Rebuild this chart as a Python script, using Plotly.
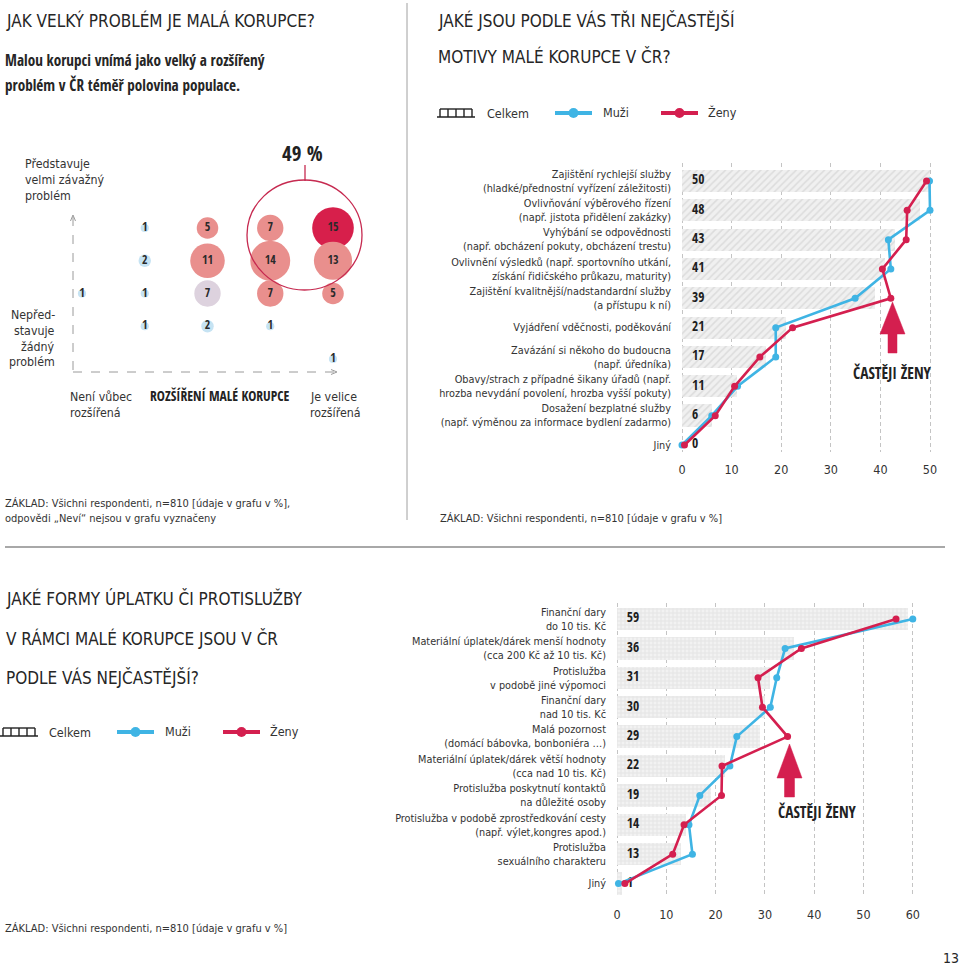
import plotly.graph_objects as go

W, H = 960, 967
NARROW = "Liberation Sans Narrow, Arial Narrow, DejaVu Sans Condensed, sans-serif"
TITLE = "'DejaVu Sans Condensed', sans-serif"
BOLDC = "'Open Sans Condensed', 'DejaVu Sans Condensed', sans-serif"
BLUE = "#3fb4e4"
RED = "#d41f4f"
INK = "#262626"
TXT = "#333333"

# ---------------- Data: panel 1 (bubble matrix) ----------------
spread_levels = [1, 2, 2, 2, 2, 3, 3, 3, 3, 4, 4, 4, 4, 5, 5, 5, 5]
severity_levels = [3, 5, 4, 3, 2, 5, 4, 3, 2, 5, 4, 3, 2, 5, 4, 3, 1]
cell_pct = [1, 1, 2, 1, 1, 5, 11, 7, 2, 7, 14, 7, 1, 15, 13, 5, 1]

# ---------------- Data: panel 2 (motives) ----------------
motives = [
    "Zajištění rychlejší služby<br>(hladké/přednostní vyřízení záležitosti)",
    "Ovlivňování výběrového řízení<br>(např. jistota přidělení zakázky)",
    "Vyhýbání se odpovědnosti<br>(např. obcházení pokuty, obcházení trestu)",
    "Ovlivnění výsledků (např. sportovního utkání,<br>získání řidičského průkazu, maturity)",
    "Zajištění kvalitnější/nadstandardní služby<br>(a přístupu k ní)",
    "Vyjádření vděčnosti, poděkování",
    "Zavázání si někoho do budoucna<br>(např. úředníka)",
    "Obavy/strach z případné šikany úřadů (např.<br>hrozba nevydání povolení, hrozba vyšší pokuty)",
    "Dosažení bezplatné služby<br>(např. výměnou za informace bydlení zadarmo)",
    "Jiný",
]
motives_total = [50, 48, 43, 41, 39, 21, 17, 11, 6, 0]
motives_men = [49.9, 50.0, 41.6, 42.1, 34.9, 18.9, 18.9, 11.2, 6.0, 0.0]
motives_women = [49.3, 45.4, 45.2, 40.4, 42.1, 22.3, 15.7, 10.6, 6.7, 0.5]
motives_ticks = [0, 10, 20, 30, 40, 50]

# ---------------- Data: panel 3 (forms) ----------------
forms = [
    "Finanční dary<br>do 10 tis. Kč",
    "Materiální úplatek/dárek menší hodnoty<br>(cca 200 Kč až 10 tis. Kč)",
    "Protislužba<br>v podobě jiné výpomoci",
    "Finanční dary<br>nad 10 tis. Kč",
    "Malá pozornost<br>(domácí bábovka, bonboniéra …)",
    "Materiální úplatek/dárek větší hodnoty<br>(cca nad 10 tis. Kč)",
    "Protislužba poskytnutí kontaktů<br>na důležité osoby",
    "Protislužba v podobě zprostředkování cesty<br>(např. výlet,kongres apod.)",
    "Protislužba<br>sexuálního charakteru",
    "Jiný",
]
forms_total = [59, 36, 31, 30, 29, 22, 19, 14, 13, 1]
forms_men = [60.0, 34.1, 32.4, 31.1, 24.3, 22.9, 16.8, 14.6, 15.3, 0.3]
forms_women = [56.6, 37.4, 28.6, 29.5, 34.6, 21.3, 21.2, 13.6, 11.3, 1.6]
forms_ticks = [0, 10, 20, 30, 40, 50, 60]


# ---------------- helpers (pixel layout -> paper) ----------------
def px(x):
    return x / W


def py(y):
    return 1 - y / H


def xmap(L, R, p0, v0, k):
    return dict(domain=[px(L), px(R)], range=[v0 + (L - p0) / k, v0 + (R - p0) / k])


def ymap(T, B, p0, v0, k, up=False):
    s = -1 if up else 1
    return dict(domain=[py(B), py(T)], range=[v0 + s * (B - p0) / k, v0 + s * (T - p0) / k])


fig = go.Figure()
annotations = []
shapes = []


def text(x, y, s, size=13, anchor="left", bold=False, color=TXT, family=NARROW):
    annotations.append(dict(
        x=px(x), y=py(y), xref="paper", yref="paper", text=s, showarrow=False,
        xanchor=anchor, yanchor="middle", align=anchor if anchor != "center" else "center",
        font=dict(family=family, size=size, color=color, weight="bold" if bold else "normal"),
    ))


def line(x0, y0, x1, y1, color="#999", width=1, dash=None):
    shapes.append(dict(type="line", xref="paper", yref="paper", x0=px(x0), y0=py(y0),
                       x1=px(x1), y1=py(y1), line=dict(color=color, width=width, dash=dash)))


def path(points, fill=None, color="#999", width=1, closed=False):
    d = "M " + " L ".join(f"{px(a):.5f},{py(b):.5f}" for a, b in points)
    if closed:
        d += " Z"
    shapes.append(dict(type="path", xref="paper", yref="paper", path=d,
                       fillcolor=fill if fill else "rgba(0,0,0,0)",
                       line=dict(color=color, width=width)))


# ================= Panel 1 : bubbles =================
order = sorted(range(len(cell_pct)), key=lambda i: -severity_levels[i])
vmax = max(cell_pct)


def bubble_color(i):
    v, s = cell_pct[i], spread_levels[i] + severity_levels[i]
    if v == vmax:
        return "#d71f4b"
    if v >= 5 and s > 6:
        return "#e98f8d"
    if v >= 5 and s == 6:
        return "#ddd2de"
    return "#c6e3f3"


fig.add_trace(go.Scatter(
    x=[spread_levels[i] for i in order],
    y=[severity_levels[i] for i in order],
    mode="markers+text",
    text=[str(cell_pct[i]) for i in order],
    textposition="middle center",
    textfont=dict(family=BOLDC, size=12, color="#2a2a2a", weight="bold"),
    marker=dict(size=[8.2 * cell_pct[i] ** 0.6 for i in order],
                color=[bubble_color(i) for i in order], line=dict(width=0), opacity=1),
    xaxis="x", yaxis="y", cliponaxis=False, hoverinfo="skip",
))

# axes arrows
line(73, 217, 73, 372, "#9a9a9a", 1, "dash")
line(73, 372, 336, 372, "#9a9a9a", 1, "dash")
path([(70.5, 221), (73, 215), (75.5, 221)], color="#9a9a9a", width=1)
path([(331, 369.5), (337, 372), (331, 374.5)], color="#9a9a9a", width=1)

# 49 % highlight
shapes.append(dict(type="circle", xref="paper", yref="paper", x0=px(247), x1=px(362),
                   y0=py(290), y1=py(180), line=dict(color="#c62a50", width=1.3)))
line(305, 165, 305, 181, "#c62a50", 1.3)
text(302, 153, "49 %", size=21, anchor="center", bold=True, color="#222", family=BOLDC)

text(23, 164, "Představuje", 12.3)
text(23, 180, "velmi závažný", 12.3)
text(23, 196, "problém", 12.3)
for yy, s in zip([315, 331, 347, 362], ["Nepřed-", "stavuje", "žádný", "problém"]):
    text(57, yy, s, 12.3, anchor="right")
text(68, 397, "Není vůbec", 12.3)
text(68, 413, "rozšířená", 12.3)
text(219, 395, "ROZŠÍŘENÍ MALÉ KORUPCE", 13.6, anchor="center", bold=True, color="#222", family=BOLDC)
text(308, 397, "Je velice", 12.3)
text(308, 413, "rozšířená", 12.3)

# titles panel 1
text(4, 20, "JAK VELKÝ PROBLÉM JE MALÁ KORUPCE?", 17, color=INK, family=TITLE)
text(3, 60, "Malou korupci vnímá jako velký a rozšířený", 15.2, bold=True, color=INK, family=BOLDC)
text(3, 85, "problém v ČR téměř polovina populace.", 15.2, bold=True, color=INK, family=BOLDC)
text(3, 503, "ZÁKLAD: Všichni respondenti, n=810 [údaje v grafu v %],", 11)
text(3, 518, "odpovědi „Neví“ nejsou v grafu vyznačeny", 11)


# ================= Panels 2 & 3 : bars + lines =================
def bar_panel(cats, total, men, women, xa, ya, pattern):
    rows = list(range(len(cats)))
    fig.add_trace(go.Bar(
        x=total, y=rows, orientation="h", width=0.76, xaxis=xa, yaxis=ya,
        marker=dict(color="#f0f0f0", line=dict(width=0), pattern=pattern),
        hoverinfo="skip",
    ))
    fig.add_trace(go.Scatter(
        x=[2.0] * len(rows), y=rows, mode="text", text=[str(v) for v in total],
        textposition="middle right", xaxis=xa, yaxis=ya, cliponaxis=False,
        textfont=dict(family=BOLDC, size=13.5, color="#1e1e1e", weight="bold"), hoverinfo="skip",
    ))
    for vals, col in ((men, BLUE), (women, RED)):
        fig.add_trace(go.Scatter(
            x=vals, y=rows, mode="lines+markers", xaxis=xa, yaxis=ya, cliponaxis=False,
            line=dict(color=col, width=2.6), marker=dict(color=col, size=7), hoverinfo="skip",
        ))


bar_panel(motives, motives_total, motives_men, motives_women, "x2", "y2",
          dict(shape="/", fgcolor="#c8c8c8", bgcolor="#f0f0f0", size=5, solidity=0.3, fillmode="overlay"))
bar_panel(forms, forms_total, forms_men, forms_women, "x3", "y3",
          dict(shape="+", fgcolor="#cbcbcb", bgcolor="#f2f2f2", size=4, solidity=0.3, fillmode="overlay"))

xcommon = dict(showgrid=True, gridcolor="#c4c4c4", gridwidth=1, griddash="4px,3px",
               zeroline=False, showline=False, ticks="",
               tickfont=dict(family=NARROW, size=12.5, color=TXT), ticklabelstandoff=8)
ycommon = dict(showgrid=False, zeroline=False, showline=False, ticks="",
               tickfont=dict(family=NARROW, size=10.8, color=TXT), ticklabelstandoff=4)

layout_axes = dict(
    xaxis=dict(**xmap(15, 400, 82, 1, 62.75), visible=False, anchor="y"),
    yaxis=dict(**ymap(135, 430, 228, 5, 32.75, up=True), visible=False, anchor="x"),
    xaxis2=dict(**xmap(676, 945, 682, 0, 4.96), anchor="y2", tickvals=motives_ticks, **xcommon),
    yaxis2=dict(**ymap(163, 452, 181, 0, 29.33), anchor="x2", tickvals=list(range(len(motives))),
                ticktext=motives, **ycommon),
    xaxis3=dict(**xmap(611, 945, 617, 0, 4.93), anchor="y3", tickvals=forms_ticks, **xcommon),
    yaxis3=dict(**ymap(603, 897, 619, 0, 29.4), anchor="x3", tickvals=list(range(len(forms))),
                ticktext=forms, **ycommon),
)

# titles panel 2
text(436, 20, "JAKÉ JSOU PODLE VÁS TŘI NEJČASTĚJŠÍ", 17, color=INK, family=TITLE)
text(436, 57, "MOTIVY MALÉ KORUPCE V ČR?", 17, color=INK, family=TITLE)
# panel 3 titles
text(4, 598, "JAKÉ FORMY ÚPLATKU ČI PROTISLUŽBY", 17, color=INK, family=TITLE)
text(4, 638, "V RÁMCI MALÉ KORUPCE JSOU V ČR", 17, color=INK, family=TITLE)
text(4, 677, "PODLE VÁS NEJČASTĚJŠÍ?", 17, color=INK, family=TITLE)


def legend(x0, y, x_text1, mx0, x_text2, zx0, x_text3):
    # Celkem "ladder" icon
    line(x0, y - 4, x0 + 32, y - 4, "#222", 1.4)
    line(x0 - 3, y + 4, x0 + 35, y + 4, "#222", 1.4)
    for k in range(5):
        line(x0 + 8 * k, y - 4, x0 + 8 * k, y + 4, "#222", 1.4)
    text(x_text1, y, "Celkem", 12.5)
    for xx, col, lab, tx in ((mx0, BLUE, "Muži", x_text2), (zx0, RED, "Ženy", x_text3)):
        line(xx, y, xx + 37, y, col, 4)
        shapes.append(dict(type="circle", xref="paper", yref="paper",
                           x0=px(xx + 13.5), x1=px(xx + 23.5), y0=py(y + 5), y1=py(y - 5),
                           fillcolor=col, line=dict(width=0)))
        text(tx, y - 1, lab, 12.5)


legend(440, 113, 485, 555, 601, 661, 706)
legend(3, 732, 47, 117, 163, 223, 268)


def up_arrow(cx, tip, base, bottom, hw, sw):
    path([(cx, tip), (cx + hw, base), (cx + sw, base), (cx + sw, bottom), (cx - sw, bottom),
          (cx - sw, base), (cx - hw, base)], fill=RED, color=RED, width=0.5, closed=True)


up_arrow(892.5, 302, 334, 353, 12.5, 4.5)
text(892, 373, "ČASTĚJI ŽENY", 15.5, anchor="center", bold=True, color="#222", family=BOLDC)
up_arrow(789.5, 744, 778, 797, 12.5, 5)
text(817, 812, "ČASTĚJI ŽENY", 15.5, anchor="center", bold=True, color="#222", family=BOLDC)

text(438, 518, "ZÁKLAD: Všichni respondenti, n=810 [údaje v grafu v %]", 11)
text(3, 928, "ZÁKLAD: Všichni respondenti, n=810 [údaje v grafu v %]", 11)
text(951, 958, "13", 14, anchor="center", color=INK, family=TITLE)

# separators
line(407, 3, 407, 520, "#a0a0a0", 1)
line(5, 547, 945, 547, "#a8a8a8", 2)

fig.update_layout(
    width=W, height=H, autosize=False, margin=dict(l=0, r=0, t=0, b=0, pad=0),
    paper_bgcolor="white", plot_bgcolor="rgba(0,0,0,0)", showlegend=False,
    font=dict(family=NARROW, color=TXT), bargap=0,
    annotations=annotations, shapes=shapes, **layout_axes,
)

fig.write_html("out.html", config={"displayModeBar": False},
               post_script="document.body.style.margin='0';document.body.style.overflow='hidden';")
